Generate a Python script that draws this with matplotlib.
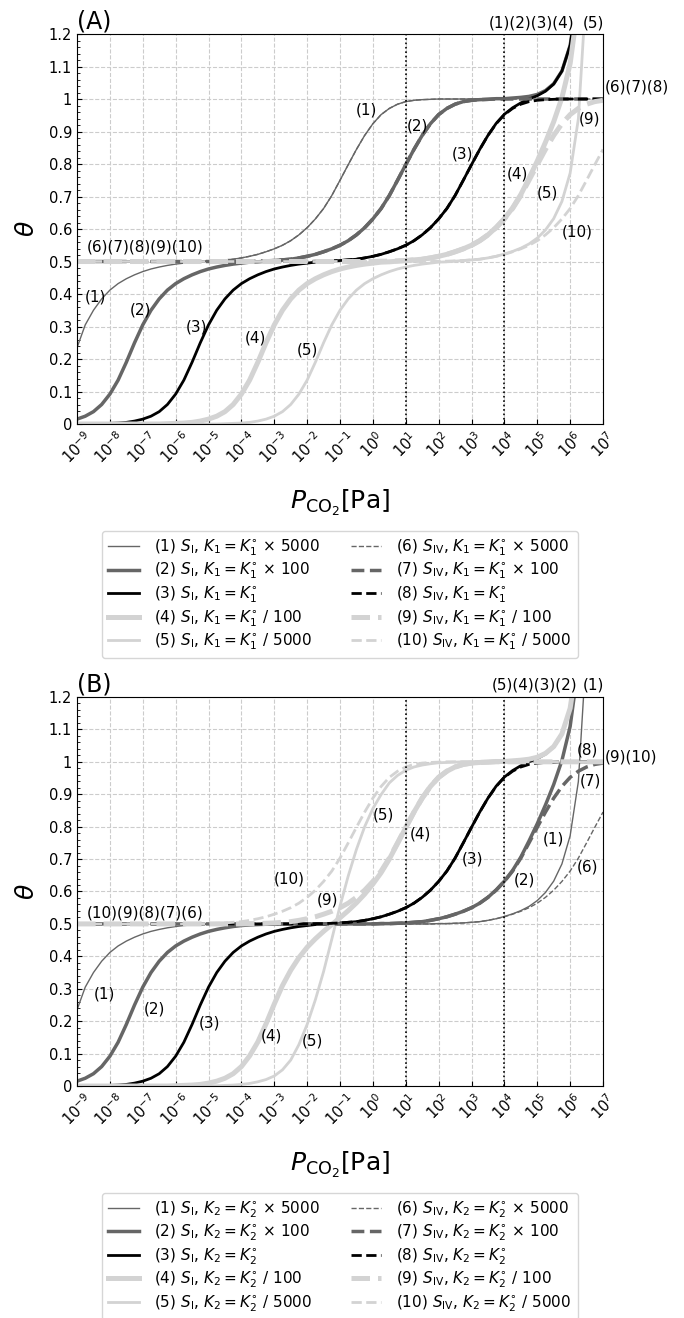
import numpy as np
import matplotlib.pyplot as plt
from matplotlib.ticker import MultipleLocator, NullLocator, FormatStrFormatter

nan = np.nan

# curves read every quarter decade, log10(P_CO2 / Pa) = -9 ... 7
log_p = np.linspace(-9, 7, 65)

# ---- panel (A): K1 varied ----
a_s1 = [0.235, 0.305, 0.350, 0.385, 0.412, 0.432, 0.447, 0.459, 0.469, 0.477, 0.483, 0.488, 0.492,
        0.495, 0.498, 0.499, 0.501, 0.503, 0.505, 0.507, 0.511, 0.516, 0.522, 0.530, 0.539, 0.550,
        0.564, 0.582, 0.604, 0.631, 0.663, 0.703, 0.750, 0.798, 0.845, 0.888, 0.924, 0.952, 0.971,
        0.984, 0.992, 0.996, 0.998, 0.999, 1.000, 1.000, 1.000, 1.000, 1.000, 1.000, 1.000, 1.001,
        1.001, 1.003, 1.005, 1.008, 1.014, 1.026, 1.047, 1.086, 1.165, 1.335, nan, nan, nan]
a_s2 = [0.015, 0.024, 0.038, 0.060, 0.092, 0.135, 0.190, 0.250, 0.305, 0.350, 0.385, 0.412, 0.432,
        0.447, 0.459, 0.469, 0.477, 0.483, 0.488, 0.492, 0.495, 0.498, 0.499, 0.501, 0.503, 0.505,
        0.507, 0.511, 0.516, 0.522, 0.530, 0.539, 0.550, 0.564, 0.582, 0.604, 0.631, 0.663, 0.703,
        0.750, 0.798, 0.845, 0.888, 0.924, 0.952, 0.971, 0.984, 0.992, 0.996, 0.998, 0.999, 1.001,
        1.001, 1.003, 1.005, 1.008, 1.014, 1.026, 1.047, 1.086, 1.165, 1.335, nan, nan, nan]
a_s3 = [0.000, 0.000, 0.000, 0.001, 0.002, 0.003, 0.005, 0.009, 0.015, 0.024, 0.038, 0.060, 0.092,
        0.135, 0.190, 0.250, 0.305, 0.350, 0.385, 0.412, 0.432, 0.447, 0.459, 0.469, 0.477, 0.483,
        0.488, 0.492, 0.495, 0.498, 0.499, 0.501, 0.503, 0.505, 0.507, 0.511, 0.516, 0.522, 0.530,
        0.539, 0.550, 0.564, 0.582, 0.604, 0.631, 0.663, 0.703, 0.750, 0.798, 0.845, 0.888, 0.925,
        0.953, 0.973, 0.988, 1.000, 1.010, 1.024, 1.046, 1.086, 1.165, 1.335, nan, nan, nan]
a_s4 = [0.000, 0.000, 0.000, 0.000, 0.000, 0.000, 0.000, 0.000, 0.000, 0.000, 0.000, 0.001, 0.002,
        0.003, 0.005, 0.009, 0.015, 0.024, 0.038, 0.060, 0.092, 0.135, 0.190, 0.250, 0.305, 0.350,
        0.385, 0.412, 0.432, 0.447, 0.459, 0.469, 0.477, 0.483, 0.488, 0.492, 0.495, 0.498, 0.499,
        0.501, 0.503, 0.505, 0.507, 0.511, 0.516, 0.522, 0.530, 0.539, 0.550, 0.564, 0.582, 0.605,
        0.632, 0.665, 0.706, 0.756, 0.809, 0.867, 0.930, 1.004, 1.109, 1.297, nan, nan, nan]
a_s5 = [0.000, 0.000, 0.000, 0.000, 0.000, 0.000, 0.000, 0.000, 0.000, 0.000, 0.000, 0.000, 0.000,
        0.000, 0.000, 0.000, 0.000, 0.000, 0.001, 0.002, 0.003, 0.005, 0.009, 0.015, 0.024, 0.038,
        0.060, 0.092, 0.135, 0.190, 0.250, 0.305, 0.350, 0.385, 0.412, 0.432, 0.447, 0.459, 0.469,
        0.477, 0.483, 0.488, 0.492, 0.495, 0.498, 0.499, 0.501, 0.503, 0.505, 0.507, 0.511, 0.516,
        0.523, 0.531, 0.541, 0.554, 0.572, 0.597, 0.632, 0.685, 0.772, 0.939, 1.355, nan, nan]
a_d6 = [0.500, 0.500, 0.500, 0.500, 0.500, 0.500, 0.500, 0.500, 0.500, 0.500, 0.500, 0.500, 0.500,
        0.500, 0.501, 0.501, 0.502, 0.503, 0.505, 0.507, 0.511, 0.516, 0.522, 0.530, 0.539, 0.550,
        0.564, 0.582, 0.604, 0.631, 0.663, 0.703, 0.750, 0.798, 0.845, 0.888, 0.924, 0.952, 0.971,
        0.984, 0.992, 0.996, 0.998, 0.999, 1.000, 1.000, 1.000, 1.000, 1.000, 1.000, 1.000, 1.000,
        1.000, 1.000, 1.000, 1.000, 1.000, 1.000, 1.000, 1.000, 1.000, 1.000, 1.000, 1.000, 1.000]
a_d7 = [0.500, 0.500, 0.500, 0.500, 0.500, 0.500, 0.500, 0.500, 0.500, 0.500, 0.500, 0.500, 0.500,
        0.500, 0.500, 0.500, 0.500, 0.500, 0.500, 0.500, 0.500, 0.501, 0.501, 0.502, 0.503, 0.505,
        0.507, 0.511, 0.516, 0.522, 0.530, 0.539, 0.550, 0.564, 0.582, 0.604, 0.631, 0.663, 0.703,
        0.750, 0.798, 0.845, 0.888, 0.924, 0.952, 0.971, 0.984, 0.992, 0.996, 0.998, 0.999, 1.000,
        1.000, 1.000, 1.000, 1.000, 1.000, 1.000, 1.000, 1.000, 1.000, 1.000, 1.000, 1.000, 1.000]
a_d8 = [0.500, 0.500, 0.500, 0.500, 0.500, 0.500, 0.500, 0.500, 0.500, 0.500, 0.500, 0.500, 0.500,
        0.500, 0.500, 0.500, 0.500, 0.500, 0.500, 0.500, 0.500, 0.500, 0.500, 0.500, 0.500, 0.500,
        0.500, 0.500, 0.500, 0.501, 0.501, 0.502, 0.503, 0.505, 0.507, 0.511, 0.516, 0.522, 0.530,
        0.539, 0.550, 0.564, 0.582, 0.604, 0.631, 0.663, 0.703, 0.750, 0.798, 0.845, 0.888, 0.924,
        0.952, 0.971, 0.984, 0.992, 0.996, 0.998, 0.999, 1.000, 1.000, 1.000, 1.000, 1.000, 1.000]
a_d9 = [0.500, 0.500, 0.500, 0.500, 0.500, 0.500, 0.500, 0.500, 0.500, 0.500, 0.500, 0.500, 0.500,
        0.500, 0.500, 0.500, 0.500, 0.500, 0.500, 0.500, 0.500, 0.500, 0.500, 0.500, 0.500, 0.500,
        0.500, 0.500, 0.500, 0.500, 0.500, 0.500, 0.500, 0.500, 0.500, 0.500, 0.500, 0.501, 0.501,
        0.502, 0.503, 0.505, 0.507, 0.511, 0.516, 0.522, 0.530, 0.539, 0.550, 0.564, 0.582, 0.604,
        0.631, 0.663, 0.703, 0.750, 0.798, 0.845, 0.888, 0.924, 0.952, 0.971, 0.984, 0.992, 0.996]
a_d10 = [0.500, 0.500, 0.500, 0.500, 0.500, 0.500, 0.500, 0.500, 0.500, 0.500, 0.500, 0.500, 0.500,
         0.500, 0.500, 0.500, 0.500, 0.500, 0.500, 0.500, 0.500, 0.500, 0.500, 0.500, 0.500, 0.500,
         0.500, 0.500, 0.500, 0.500, 0.500, 0.500, 0.500, 0.500, 0.500, 0.500, 0.500, 0.500, 0.500,
         0.500, 0.500, 0.500, 0.500, 0.500, 0.501, 0.501, 0.502, 0.503, 0.505, 0.507, 0.511, 0.516,
         0.522, 0.530, 0.539, 0.550, 0.564, 0.582, 0.604, 0.631, 0.663, 0.703, 0.750, 0.798, 0.845]

# ---- panel (B): K2 varied ----
b_s1 = [0.235, 0.305, 0.350, 0.385, 0.412, 0.432, 0.447, 0.459, 0.469, 0.477, 0.483, 0.488, 0.492,
        0.495, 0.497, 0.498, 0.499, 0.500, 0.500, 0.500, 0.500, 0.500, 0.500, 0.500, 0.500, 0.500,
        0.500, 0.500, 0.500, 0.500, 0.500, 0.500, 0.500, 0.500, 0.500, 0.500, 0.500, 0.500, 0.500,
        0.500, 0.500, 0.500, 0.500, 0.500, 0.501, 0.501, 0.502, 0.503, 0.505, 0.507, 0.511, 0.516,
        0.523, 0.531, 0.541, 0.554, 0.572, 0.597, 0.632, 0.685, 0.772, 0.939, 1.355, nan, nan]
b_s2 = [0.015, 0.024, 0.038, 0.060, 0.092, 0.135, 0.190, 0.250, 0.305, 0.350, 0.385, 0.412, 0.432,
        0.447, 0.459, 0.469, 0.477, 0.483, 0.488, 0.492, 0.495, 0.497, 0.498, 0.499, 0.500, 0.500,
        0.500, 0.500, 0.500, 0.500, 0.500, 0.500, 0.500, 0.500, 0.500, 0.500, 0.500, 0.501, 0.501,
        0.502, 0.503, 0.505, 0.507, 0.511, 0.516, 0.522, 0.530, 0.539, 0.550, 0.564, 0.582, 0.605,
        0.632, 0.665, 0.706, 0.756, 0.809, 0.867, 0.930, 1.004, 1.109, 1.297, nan, nan, nan]
b_s3 = list(a_s3)
b_s4 = [0.000, 0.000, 0.000, 0.000, 0.000, 0.000, 0.000, 0.000, 0.000, 0.000, 0.000, 0.000, 0.001,
        0.002, 0.003, 0.005, 0.009, 0.015, 0.024, 0.038, 0.060, 0.093, 0.136, 0.192, 0.253, 0.310,
        0.357, 0.396, 0.428, 0.454, 0.477, 0.498, 0.519, 0.541, 0.565, 0.592, 0.623, 0.658, 0.700,
        0.748, 0.797, 0.845, 0.888, 0.924, 0.952, 0.971, 0.984, 0.992, 0.996, 0.998, 0.999, 1.001,
        1.001, 1.003, 1.005, 1.008, 1.014, 1.026, 1.047, 1.086, 1.165, 1.335, nan, nan, nan]
b_s5 = [0.000, 0.000, 0.000, 0.000, 0.000, 0.000, 0.000, 0.000, 0.000, 0.000, 0.000, 0.000, 0.000,
        0.000, 0.000, 0.000, 0.001, 0.001, 0.002, 0.003, 0.005, 0.008, 0.013, 0.020, 0.031, 0.050,
        0.080, 0.128, 0.190, 0.266, 0.353, 0.453, 0.555, 0.648, 0.730, 0.800, 0.856, 0.899, 0.935,
        0.958, 0.974, 0.984, 0.990, 0.994, 0.997, 0.998, 0.999, 1.000, 1.000, 1.000, 1.000, 1.001,
        1.001, 1.003, 1.005, 1.008, 1.014, 1.026, 1.047, 1.086, 1.165, 1.335, nan, nan, nan]
b_d6 = list(a_d10)
b_d7 = list(a_d9)
b_d8 = list(a_d8)
b_d9 = list(a_d7)
b_d10 = [0.500, 0.500, 0.500, 0.500, 0.500, 0.500, 0.500, 0.500, 0.500, 0.500, 0.500, 0.500, 0.500,
         0.500, 0.500, 0.501, 0.501, 0.502, 0.503, 0.505, 0.507, 0.511, 0.516, 0.522, 0.530, 0.539,
         0.550, 0.564, 0.582, 0.604, 0.631, 0.663, 0.703, 0.750, 0.798, 0.845, 0.888, 0.924, 0.952,
         0.971, 0.984, 0.992, 0.996, 0.998, 0.999, 1.000, 1.000, 1.000, 1.000, 1.000, 1.000, 1.000,
         1.000, 1.000, 1.000, 1.000, 1.000, 1.000, 1.000, 1.000, 1.000, 1.000, 1.000, 1.000, 1.000]

factors = [r'$\times$ 5000', r'$\times$ 100', '', '/ 100', '/ 5000']

# (text, log10 P, theta, ha) curve tags written on the plots
notes_a = [('(1)(2)(3)(4)', 6.14, 1.234, 'right'), ('(5)', 6.71, 1.234, 'center'),
           ('(6)(7)(8)', 7.05, 1.037, 'left'), ('(9)', 6.6, 0.94, 'center'), ('(10)', 6.23, 0.59, 'center'),
           ('(1)', -0.19, 0.966, 'center'), ('(2)', 1.34, 0.917, 'center'), ('(3)', 2.73, 0.83, 'center'),
           ('(4)', 4.4, 0.77, 'center'), ('(5)', 5.3, 0.71, 'center'),
           ('(6)(7)(8)(9)(10)', -8.7, 0.545, 'left'),
           ('(1)', -8.43, 0.39, 'center'), ('(2)', -7.07, 0.35, 'center'), ('(3)', -5.36, 0.30, 'center'),
           ('(4)', -3.57, 0.265, 'center'), ('(5)', -1.98, 0.228, 'center')]
notes_b = [('(5)(4)(3)(2)', 6.23, 1.237, 'right'), ('(1)', 6.71, 1.237, 'center'),
           ('(8)', 6.53, 1.037, 'center'), ('(9)(10)', 7.05, 1.015, 'left'), ('(7)', 6.63, 0.94, 'center'),
           ('(5)', 0.33, 0.836, 'center'), ('(4)', 1.46, 0.778, 'center'), ('(3)', 3.04, 0.70, 'center'),
           ('(2)', 4.62, 0.636, 'center'), ('(1)', 5.5, 0.762, 'center'), ('(6)', 6.53, 0.676, 'center'),
           ('(10)', -2.53, 0.64, 'center'), ('(9)', -1.37, 0.574, 'center'),
           ('(10)(9)(8)(7)(6)', -8.7, 0.534, 'left'),
           ('(1)', -8.18, 0.284, 'center'), ('(2)', -6.66, 0.238, 'center'), ('(3)', -4.96, 0.195, 'center'),
           ('(4)', -3.1, 0.154, 'center'), ('(5)', -1.83, 0.139, 'center')]

colors = ['#666666', '#666666', 'black', '#d3d3d3', '#d3d3d3']
widths = [1.0, 2.5, 2.0, 3.6, 2.0]

p = 10.0 ** log_p

fig = plt.figure(figsize=(6.84, 13.18), dpi=100)
ax_a = fig.add_axes([0.1126, 0.6783, 0.769, 0.2959])
ax_b = fig.add_axes([0.1126, 0.1760, 0.769, 0.2952])


def draw_panel(ax, solid, dashed, k, tag, notes):
    for i in range(5):
        lab = r'(%d) $S_{\rm I}$, $K_%s = K_%s^{\circ}$ %s' % (i + 1, k, k, factors[i])
        ax.plot(p, solid[i], color=colors[i], lw=widths[i], label=lab)
    for i in range(5):
        lab = r'(%d) $S_{\rm IV}$, $K_%s = K_%s^{\circ}$ %s' % (i + 6, k, k, factors[i])
        ax.plot(p, dashed[i], color=colors[i], lw=widths[i], ls='--', label=lab)
    ax.axvline(1e1, color='black', ls=':', lw=1.2)
    ax.axvline(1e4, color='black', ls=':', lw=1.2)

    ax.set_xscale('log')
    ax.set_xlim(1e-9, 1e7)
    ax.set_ylim(0, 1.2)
    ax.set_xticks([10.0 ** e for e in range(-9, 8)])
    ax.xaxis.set_minor_locator(NullLocator())
    ax.set_yticks(np.round(np.arange(0, 1.21, 0.1), 1))
    ax.yaxis.set_major_formatter(FormatStrFormatter('%g'))
    ax.yaxis.set_minor_locator(MultipleLocator(0.02))
    ax.tick_params(which='both', direction='in', labelsize=10.5)
    ax.tick_params(axis='x', labelrotation=45)
    ax.grid(True, which='major', ls='--', color='#cccccc', lw=0.8)

    ax.set_xlabel(r'$P_{\mathrm{CO_2}}$[Pa]', fontsize=18, labelpad=15)
    ax.set_ylabel(r'$\theta$', fontsize=18, labelpad=7)
    ax.set_title(tag, loc='left', fontsize=17, pad=4)

    for txt, lx, ty, ha in notes:
        ax.text(10.0 ** lx, ty, txt, ha=ha, va='center', fontsize=11)

    ax.legend(loc='upper center', bbox_to_anchor=(0.5, -0.275), ncol=2, fontsize=11,
              labelspacing=0.2, handletextpad=1.0, columnspacing=2.0, borderaxespad=0.0)


draw_panel(ax_a, [a_s1, a_s2, a_s3, a_s4, a_s5], [a_d6, a_d7, a_d8, a_d9, a_d10], '1', '(A)', notes_a)
draw_panel(ax_b, [b_s1, b_s2, b_s3, b_s4, b_s5], [b_d6, b_d7, b_d8, b_d9, b_d10], '2', '(B)', notes_b)

fig.savefig('out.png', dpi=100)
